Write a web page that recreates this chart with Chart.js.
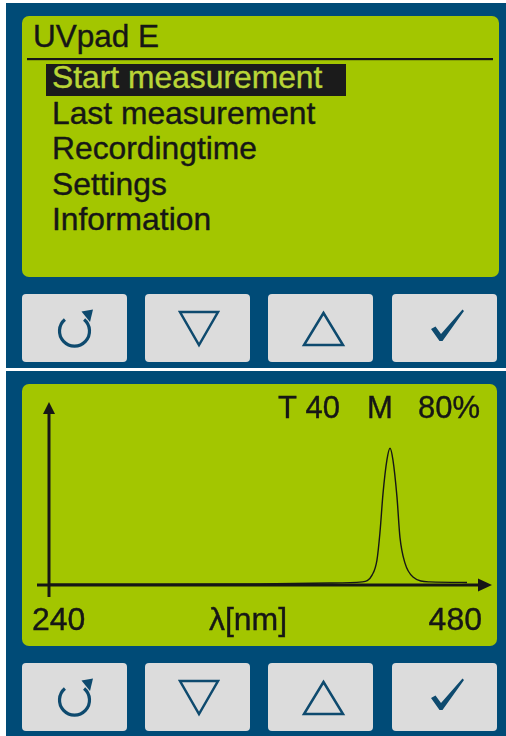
<!DOCTYPE html>
<html>
<head>
<meta charset="utf-8">
<script src="https://cdn.jsdelivr.net/npm/chart.js@4"></script>
<style>
  html, body { margin: 0; padding: 0; background: #fff; }
  body { width: 506px; height: 736px; position: relative; overflow: hidden; font-family: "Liberation Sans", Arial, sans-serif; }
  #chrome { position: absolute; left: 0; top: 0; }
  #plot { position: absolute; left: 22px; top: 384px; }
</style>
</head>
<body>
<svg id="chrome" width="506" height="736" xmlns="http://www.w3.org/2000/svg"></svg>
<canvas id="plot" width="475" height="262"></canvas>
<script>
// menu screen
const titleText = 'UVpad E';
const menuItems = ['Start measurement', 'Last measurement', 'Recordingtime', 'Settings', 'Information'];
const selectedItem = 0;

// spectrum screen
const headerParts = ['T 40', 'M', '80%'];
const xTickLabels = ['240', '480'];
const xAxisTitle = 'λ[nm]';
const xMin = 240, xMax = 480;
const yMin = 0, yMax = 100;

// spectrum (wavelength nm / relative intensity %)
const wavelengths = [240, 300, 360, 401, 420, 425.5, 428.3, 430, 431.8, 434, 435.8, 437.5, 439.8, 441.5, 444.4, 449, 458.7, 480];
const intensity   = [0.5, 0.5, 0.6, 1.2, 1.8, 5.8, 14.6, 30.4, 53.7, 73, 80, 73, 51.4, 28, 12.8, 4.7, 1.8, 1.5];

const ink = '#161616';
const lcd = '#a3c600';
const frame = '#004b77';
const key = '#dcdcdc';
const icon = '#0e4a6e';

// ---- device chrome (svg) ----
const svg = document.getElementById('chrome');
function el(tag, attrs, text) {
    const e = document.createElementNS('http://www.w3.org/2000/svg', tag);
    for (const k in attrs) e.setAttribute(k, attrs[k]);
    if (text) e.textContent = text;
    svg.appendChild(e);
    return e;
}

function drawKeys(y0) {
    const xs = [22, 145, 268, 392];
    xs.forEach(x => el('rect', {x: x, y: y0, width: 105, height: 68, rx: 4, fill: key}));
    const cy = y0 + 34;
    // rotate key
    el('path', {d: `M64.9 ${cy - 8.5} A15 15 0 1 0 84.1 ${cy - 8.5}`, fill: 'none', stroke: icon, 'stroke-width': 3.2});
    el('path', {d: `M81.5 ${cy - 16.5} L93 ${cy - 18.5} L90 ${cy - 6} Z`, fill: icon});
    // down
    el('path', {d: `M180 ${cy - 16} L218 ${cy - 16} L199 ${cy + 17} Z`, fill: 'none', stroke: icon, 'stroke-width': 2.5});
    // up
    el('path', {d: `M304 ${cy + 17} L343 ${cy + 17} L323.5 ${cy - 15} Z`, fill: 'none', stroke: icon, 'stroke-width': 2.5});
    // ok
    el('path', {d: `M431 ${cy + 1} L435.5 ${cy - 1.5} L441 ${cy + 6} L462.5 ${cy - 18.5} L464 ${cy - 17} L442.5 ${cy + 13} L439.5 ${cy + 13} Z`, fill: icon});
}

// top device
el('rect', {x: 6, y: 3, width: 500, height: 365, fill: frame});
el('rect', {x: 22, y: 16, width: 477, height: 261, rx: 7, fill: lcd});
el('text', {x: 33, y: 47, 'font-size': 31.5, fill: ink, stroke: ink, 'stroke-width': 0.4}, titleText);
el('rect', {x: 27, y: 58, width: 466, height: 2.2, fill: ink});
menuItems.forEach((m, i) => {
    const base = 88 + i * 35.5;
    const c = i === selectedItem ? '#b9d536' : ink;
    if (i === selectedItem) el('rect', {x: 46, y: 64, width: 300, height: 32, fill: '#1b1b1b'});
    el('text', {x: 52, y: base, 'font-size': 31.8, fill: c, stroke: c, 'stroke-width': 0.4}, m);
});
drawKeys(294);

// bottom device
el('rect', {x: 6, y: 371, width: 500, height: 365, fill: frame});
el('rect', {x: 22, y: 384, width: 475, height: 262, rx: 7, fill: lcd});
drawKeys(663);

// ---- spectrum chart ----
const lcdAxes = {
    id: 'lcdAxes',
    beforeDatasetsDraw(chart) {
        const {ctx, chartArea: a} = chart;
        ctx.save();
        ctx.strokeStyle = ink;
        ctx.fillStyle = ink;
        ctx.lineWidth = 3;
        // y axis with arrow
        ctx.beginPath();
        ctx.moveTo(a.left, a.bottom + 12);
        ctx.lineTo(a.left, a.top - 2);
        ctx.stroke();
        ctx.beginPath();
        ctx.moveTo(a.left, a.top - 12);
        ctx.lineTo(a.left - 6, a.top);
        ctx.lineTo(a.left + 6, a.top);
        ctx.closePath();
        ctx.fill();
        // x axis with arrow
        ctx.beginPath();
        ctx.moveTo(a.left - 12, a.bottom);
        ctx.lineTo(a.right + 12, a.bottom);
        ctx.stroke();
        ctx.beginPath();
        ctx.moveTo(a.right + 25, a.bottom);
        ctx.lineTo(a.right + 11, a.bottom - 6.5);
        ctx.lineTo(a.right + 11, a.bottom + 6.5);
        ctx.closePath();
        ctx.fill();
        ctx.restore();
    },
    afterDraw(chart) {
        const {ctx, chartArea: a} = chart;
        ctx.save();
        ctx.fillStyle = ink;
        ctx.strokeStyle = ink;
        ctx.lineWidth = 0.4;
        ctx.textBaseline = 'alphabetic';
        const put = (t, x, y) => { ctx.fillText(t, x, y); ctx.strokeText(t, x, y); };
        ctx.font = '31px "Liberation Sans", Arial, sans-serif';
        // header
        ctx.textAlign = 'left';
        put(headerParts[0], 256, a.top + 4);
        put(headerParts[1], 345, a.top + 4);
        ctx.textAlign = 'right';
        put(headerParts[2], 458, a.top + 4);
        // tick labels + axis title
        ctx.font = '32px "Liberation Sans", Arial, sans-serif';
        ctx.textAlign = 'left';
        put(xTickLabels[0], a.left - 17, a.bottom + 45);
        ctx.textAlign = 'right';
        put(xTickLabels[1], a.right + 15, a.bottom + 45);
        ctx.textAlign = 'center';
        put(xAxisTitle, 226, a.bottom + 45);
        ctx.restore();
    }
};

new Chart(document.getElementById('plot'), {
    type: 'line',
    data: {
        datasets: [{
            data: wavelengths.map((w, i) => ({x: w, y: intensity[i]})),
            borderColor: ink,
            borderWidth: 1.4,
            pointRadius: 0,
            fill: false,
            cubicInterpolationMode: 'monotone'
        }]
    },
    options: {
        responsive: false,
        animation: false,
        layout: {padding: {left: 27, top: 30, right: 30, bottom: 61}},
        scales: {
            x: {type: 'linear', min: xMin, max: xMax, display: false},
            y: {min: yMin, max: yMax, display: false}
        },
        plugins: {
            legend: {display: false},
            tooltip: {enabled: false}
        }
    },
    plugins: [lcdAxes]
});
</script>
</body>
</html>
